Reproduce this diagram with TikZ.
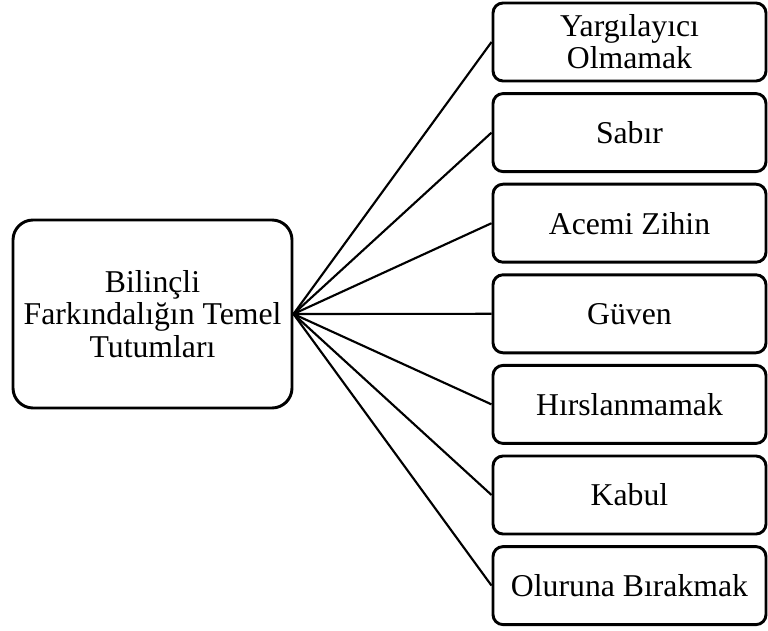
\documentclass[tikz,border=0pt]{standalone}
\usepackage{fontspec}
\setmainfont{Liberation Serif}
\begin{document}
\begin{tikzpicture}[x=0.75pt,y=-0.75pt,
  mainbox/.style={draw=black, line width=2.2pt, rounded corners=15pt, minimum width=279*0.75pt, minimum height=188*0.75pt, align=center, inner sep=0pt, font=\fontsize{23.8}{24.4}\selectfont},
  itembox/.style={draw=black, line width=2.2pt, rounded corners=7.5pt, minimum width=273*0.75pt, minimum height=78*0.75pt, align=center, inner sep=0pt, font=\fontsize{23.8}{24}\selectfont},
  conn/.style={draw=black, line width=1.6pt}]
\useasboundingbox (0,0) rectangle (768,631);
\node[mainbox] (L) at (152.5,314) {Bilinçli\\Farkındalığın Temel\\Tutumları};
\node[itembox] (R1) at (629.5,42) {Yargılayıcı\\Olmamak};
\node[itembox] (R2) at (629.5,132.6) {Sabır};
\node[itembox] (R3) at (629.5,223.2) {Acemi Zihin};
\node[itembox] (R4) at (629.5,313.8) {Güven};
\node[itembox] (R5) at (629.5,404.4) {Hırslanmamak};
\node[itembox] (R6) at (629.5,495) {Kabul};
\node[itembox] (R7) at (629.5,585.6) {Oluruna Bırakmak};
\foreach \i in {1,...,7} { \draw[conn] (L.east) -- (R\i.west); }
\end{tikzpicture}
\end{document}
